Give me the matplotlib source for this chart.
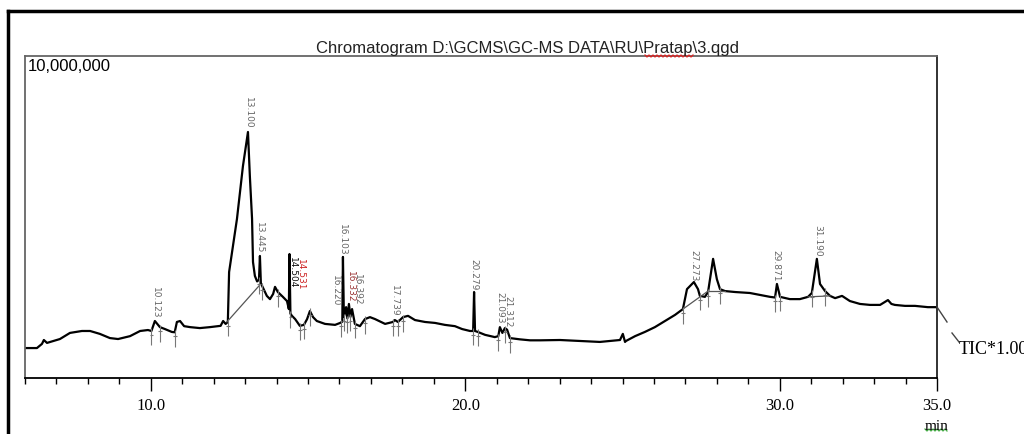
import numpy as np
import matplotlib
matplotlib.use("Agg")
import matplotlib.pyplot as plt
from matplotlib.lines import Line2D
from matplotlib.ticker import MultipleLocator, FixedLocator

# --- datos (tiempo en min, intensidad en millones) ---
rt = [6.00, 6.38, 6.54, 6.60, 6.70, 7.11, 7.43, 7.81, 8.07, 8.38, 8.70, 8.96,
      9.34, 9.66, 9.91, 10.02, 10.13, 10.29, 10.45, 10.67, 10.76, 10.83, 10.93,
      11.06, 11.25, 11.56, 11.88, 12.22, 12.30, 12.38, 12.45, 12.49, 12.74,
      12.93, 13.09, 13.15, 13.22, 13.25, 13.31, 13.38, 13.44, 13.47, 13.50,
      13.54, 13.69, 13.79, 13.89, 13.95, 14.04, 14.20, 14.33, 14.39, 14.41,
      14.44, 14.49, 14.59, 14.74, 14.87, 14.97, 15.06, 15.16, 15.28, 15.54,
      15.86, 16.02, 16.09, 16.11, 16.14, 16.21, 16.25, 16.30, 16.35, 16.40,
      16.49, 16.65, 16.81, 16.97, 17.13, 17.45, 17.70, 17.76, 17.86, 18.02,
      18.18, 18.40, 18.72, 19.04, 19.35, 19.67, 19.90, 20.15, 20.25, 20.28,
      20.31, 20.40, 20.63, 20.94, 21.05, 21.10, 21.18, 21.26, 21.33, 21.42,
      21.74, 22.06, 22.38, 23.01, 23.65, 24.28, 24.60, 24.92, 25.01, 25.08,
      25.11, 25.40, 25.71, 26.03, 26.35, 26.67, 26.92, 27.05, 27.15, 27.27,
      27.40, 27.46, 27.62, 27.72, 27.88, 28.00, 28.10, 28.26, 28.58, 29.05,
      29.37, 29.69, 29.85, 29.91, 30.01, 30.32, 30.64, 30.90, 31.02, 31.18,
      31.28, 31.44, 31.60, 31.76, 31.98, 32.23, 32.55, 32.87, 33.19, 33.44,
      33.55, 33.66, 33.98, 34.30, 34.71, 35.00]
tic = [0.93, 0.93, 1.06, 1.18, 1.09, 1.21, 1.40, 1.46, 1.46, 1.37, 1.24, 1.21,
       1.30, 1.46, 1.49, 1.46, 1.77, 1.58, 1.52, 1.43, 1.42, 1.74, 1.77,
       1.61, 1.58, 1.55, 1.58, 1.62, 1.77, 1.68, 1.74, 3.29, 4.94,
       6.58, 7.64, 6.27, 4.94, 3.60, 3.17, 3.00, 3.05, 3.79, 2.95,
       2.86, 2.55, 2.45, 2.61, 2.83, 2.67, 2.52, 2.39, 2.14, 3.85,
       2.00, 1.93, 1.83, 1.62, 1.65, 1.83, 2.08, 1.89, 1.77, 1.68,
       1.65, 1.71, 1.75, 3.76, 1.90, 2.20, 1.85, 2.30, 1.90, 2.14,
       1.68, 1.61, 1.83, 1.89, 1.83, 1.68, 1.74, 1.80, 1.74, 1.89,
       1.93, 1.80, 1.74, 1.71, 1.65, 1.61, 1.52, 1.46, 1.46, 2.67,
       1.46, 1.43, 1.34, 1.27, 1.30, 1.58, 1.40, 1.55, 1.50, 1.24,
       1.20, 1.17, 1.17, 1.18, 1.15, 1.12, 1.15, 1.18, 1.37, 1.12,
       1.15, 1.30, 1.43, 1.58, 1.77, 1.96, 2.14, 2.76, 2.86, 2.98,
       2.76, 2.55, 2.52, 2.67, 3.70, 3.07, 2.76, 2.70, 2.67, 2.64,
       2.58, 2.52, 2.50, 2.92, 2.52, 2.45, 2.45, 2.52, 2.64, 3.70,
       2.92, 2.70, 2.55, 2.48, 2.55, 2.39, 2.30, 2.27, 2.27, 2.42,
       2.30, 2.27, 2.24, 2.24, 2.20, 2.20]

# lineas base de integracion (pares de puntos)
base_t = [[12.42, 13.44], [26.92, 27.72], [27.72, 28.26], [30.90, 31.60]]
base_i = [[1.74, 2.86], [2.14, 2.70], [2.70, 2.70], [2.52, 2.55]]

# marcas de inicio/fin de pico
mark_t = [10.02, 10.29, 10.76, 12.45, 13.44, 13.54, 14.04, 14.44, 14.74, 14.87,
          15.06, 16.05, 16.14, 16.25, 16.35, 16.49, 16.81, 17.70, 17.86, 18.02,
          20.25, 20.40, 21.05, 21.26, 21.42, 26.92, 27.46, 27.72, 28.10, 29.85,
          30.01, 31.02, 31.44]

# etiquetas de picos: texto, tiempo, base de la etiqueta, color
lab_text = ["10.123", "13.100", "13.445", "14.504", "14.531", "16.103", "16.220",
            "16.332", "16.392", "17.739", "20.279", "21.093", "21.312", "27.273",
            "29.871", "31.190"]
lab_t = [10.15, 13.09, 13.47, 14.50, 14.76, 16.11, 15.86, 16.34, 16.58, 17.76,
         20.27, 21.09, 21.36, 27.27, 29.89, 31.21]
lab_i = [1.83, 7.73, 3.85, 2.76, 2.70, 3.79, 2.20, 2.33, 2.25, 1.89, 2.72, 1.68,
         1.55, 2.98, 2.98, 3.76]
lab_col = ["#666666"] * 16
lab_col[3] = "#111111"
lab_col[4] = "#cc2222"
lab_col[7] = "#993333"

W, H = 1024, 435


def fx(px):
    return px / W


def fy(py):
    return 1 - py / H


fig = plt.figure(figsize=(W / 100, H / 100), dpi=100)

# marco exterior del documento
fig.add_artist(Line2D([fx(8), 1], [fy(12), fy(12)], color="black", lw=2.5))
fig.add_artist(Line2D([fx(8), fx(8)], [0, fy(12)], color="black", lw=2.5))

ax = fig.add_axes([fx(25), fy(379), (937 - 25) / W, (379 - 57) / H])
ax.set_xlim(6, 35)
ax.set_ylim(0, 10)

ax.plot(rt, tic, color="black", lw=1.6, solid_joinstyle="round")
for bt, bi in zip(base_t, base_i):
    ax.plot(bt, bi, color="#555555", lw=0.9)

mark_i = np.interp(mark_t, rt, tic)
ax.vlines(mark_t, mark_i - 0.45, mark_i + 0.08, color="#777777", lw=0.8)
ax.hlines(mark_i - 0.12, np.array(mark_t) - 0.06, np.array(mark_t) + 0.06,
          color="#777777", lw=0.8)

for txt, t, i, c in zip(lab_text, lab_t, lab_i, lab_col):
    ax.annotate(txt, (t, i), xytext=(0, 1), textcoords="offset points",
                rotation=270, ha="center", va="bottom", fontsize=6.5,
                color=c, family="DejaVu Sans")

ax.set_yticks([])
ax.xaxis.set_major_locator(FixedLocator([10, 20, 30, 35]))
ax.xaxis.set_minor_locator(MultipleLocator(1))
ax.set_xticklabels(["10.0", "20.0", "30.0", "35.0"], family="Liberation Serif",
                   fontsize=12)
ax.tick_params(axis="x", which="major", direction="out", length=9, width=1,
               pad=5)
ax.tick_params(axis="x", which="minor", direction="out", length=4.5, width=1)
for side in ["left", "top"]:
    ax.spines[side].set_color("#666666")
    ax.spines[side].set_linewidth(1.3)
ax.spines["right"].set_color("#222222")
ax.spines["right"].set_linewidth(1.3)
ax.spines["bottom"].set_color("black")
ax.spines["bottom"].set_linewidth(1.3)

ax.text(0.003, 0.995, "10,000,000", transform=ax.transAxes, ha="left", va="top",
        fontsize=12, family="Liberation Sans")

fig.text(fx(527), fy(53), r"Chromatogram D:\GCMS\GC-MS DATA\RU\Pratap\3.qgd",
         ha="center", va="baseline", fontsize=12, family="Liberation Sans",
         color="#222222")

fig.text(fx(937), fy(430), "min", ha="center", va="baseline", fontsize=11,
         family="Liberation Serif")

# lineas guia de TIC
fig.add_artist(Line2D([fx(937), fx(947)], [fy(308), fy(323)], color="#444444", lw=1))
fig.add_artist(Line2D([fx(952), fx(959)], [fy(334), fy(343)], color="#444444", lw=1))
fig.text(fx(959), fy(354), "TIC*1.00", ha="left", va="baseline", fontsize=13,
         family="Liberation Serif")


def wavy(x0, x1, y, color):
    xs = np.arange(x0, x1 + 1, 2)
    ys = y + np.where(np.arange(len(xs)) % 2 == 0, -1, 1)
    fig.add_artist(Line2D(fx(xs), fy(ys), color=color, lw=0.9))


wavy(645, 693, 57, "#dd2222")
wavy(925, 947, 431, "#44aa44")

fig.savefig("out.png", dpi=100)
